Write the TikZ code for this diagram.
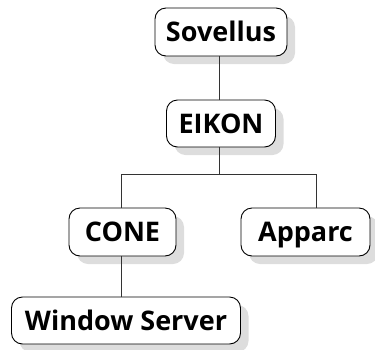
\documentclass[tikz,border=0pt]{standalone}
\usepackage{fontspec}
\setmainfont{Open Sans}
\usetikzlibrary{shadows}
\definecolor{shadowgray}{HTML}{DDDDDD}
\definecolor{linegray}{HTML}{333333}
\tikzset{
  box/.style={draw=black, line width=0.9pt, rounded corners=11pt, fill=white,
    inner sep=0pt, font=\fontsize{27}{30}\selectfont\bfseries,
    text height=19.5pt, text depth=0pt,
    drop shadow={shadow xshift=8pt, shadow yshift=-8pt, fill=shadowgray, opacity=1}},
  link/.style={draw=linegray, line width=0.9pt}
}
\begin{document}
\begin{tikzpicture}[x=1pt,y=1pt]
\useasboundingbox (0,0) rectangle (375,-349);
\node[box, minimum width=132pt, minimum height=48pt] (sov) at (221,-32) {Sovellus};
\node[box, minimum width=109pt, minimum height=47pt] (eik) at (221,-123.5) {EIKON};
\node[box, minimum width=107pt, minimum height=48pt] (cone) at (122.5,-232) {CONE};
\node[box, minimum width=129pt, minimum height=48pt] (app) at (305.5,-232) {Apparc};
\node[box, minimum width=229pt, minimum height=47pt] (ws) at (126,-320.5) {Window Server};
\coordinate (bl) at (121,-174);
\coordinate (br) at (316,-174);
\draw[link] (sov.south -| 219,0) -- (eik.north -| 219,0);
\draw[link] (eik.south -| 219,0) -- (bl -| 219,0);
\draw[link] (bl) -- (br);
\draw[link] (bl) -- (bl |- cone.north);
\draw[link] (br) -- (br |- app.north);
\draw[link] (cone.south -| bl) -- (ws.north -| bl);
\end{tikzpicture}
\end{document}
